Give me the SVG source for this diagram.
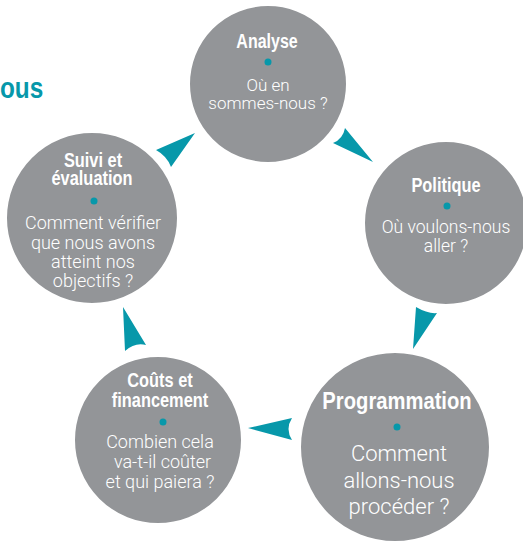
<svg xmlns="http://www.w3.org/2000/svg" width="523" height="543" viewBox="0 0 523 543">
  <style>
    .disc { fill: #939598; stroke: #ffffff; stroke-width: 2; }
    .dot { fill: #0798aa; }
    .head { fill: #0798aa; }
    .title { font-family: "Liberation Sans", Arial, sans-serif; font-weight: bold; fill: #ffffff; text-anchor: middle; font-size: 19.5px; }
    .body { font-family: Roboto, "Liberation Sans", Arial, sans-serif; font-weight: 300; fill: #ffffff; text-anchor: middle; font-size: 17.5px; }
    .heading { font-family: "Liberation Sans", Arial, sans-serif; font-weight: bold; fill: #0798aa; font-size: 29px; }
  </style>

  <!-- partially visible page heading (narrowed bold face) -->
  <text class="heading" transform="translate(0 98) scale(0.84 1)">ous</text>

  <!-- cycle arrowheads -->
  <g id="connectors">
    <path class="head" d="M373 162 L345 128 Q343 139 333 143 Z"/>
    <path class="head" d="M413 349 L416 307 Q428 314 437 313 Z"/>
    <path class="head" d="M248 428 L292 418 Q285 429 292 440 Z"/>
    <path class="head" d="M123 307 L146 345 Q135 342 125 351 Z"/>
    <path class="head" d="M195 133 L156 150 Q167 156 171 167 Z"/>
  </g>

  <g id="analyse">
    <circle class="disc" cx="268" cy="84" r="79"/>
    <text class="title" transform="translate(267 48) scale(0.82 1)">Analyse</text>
    <circle class="dot" cx="268" cy="62" r="3.5"/>
    <text class="body" x="268" y="91" style="font-size:17px">Où en</text>
    <text class="body" x="268" y="109" style="font-size:17px">sommes-nous ?</text>
  </g>

  <g id="politique">
    <circle class="disc" cx="446" cy="223" r="82"/>
    <text class="title" transform="translate(446 192) scale(0.84 1)">Politique</text>
    <circle class="dot" cx="447" cy="206" r="3.5"/>
    <text class="body" x="446" y="233">Où voulons-nous</text>
    <text class="body" x="446" y="252">aller ?</text>
  </g>

  <g id="programmation">
    <circle class="disc" cx="395" cy="447" r="95"/>
    <text class="title" transform="translate(397 409) scale(0.86 1)" style="font-size:23.5px">Programmation</text>
    <circle class="dot" cx="397" cy="427" r="3.5"/>
    <text class="body" x="399" y="461" style="font-size:22px">Comment</text>
    <text class="body" x="399" y="488" style="font-size:22px">allons-nous</text>
    <text class="body" x="399" y="514" style="font-size:22px">procéder ?</text>
  </g>

  <g id="couts">
    <circle class="disc" cx="158" cy="440" r="84"/>
    <text class="title" transform="translate(160 387) scale(0.84 1)">Coûts et</text>
    <text class="title" transform="translate(160 407) scale(0.84 1)">financement</text>
    <circle class="dot" cx="163" cy="422" r="3.5"/>
    <text class="body" x="160" y="448" style="font-size:18px">Combien cela</text>
    <text class="body" x="162.5" y="468" style="font-size:18px">va-t-il coûter</text>
    <text class="body" x="160" y="488" style="font-size:18px">et qui paiera ?</text>
  </g>

  <g id="suivi">
    <circle class="disc" cx="92" cy="218" r="86"/>
    <text class="title" transform="translate(93 167) scale(0.84 1)">Suivi et</text>
    <text class="title" transform="translate(92 185) scale(0.84 1)">évaluation</text>
    <circle class="dot" cx="94" cy="201" r="3.5"/>
    <text class="body" x="93" y="229" style="font-size:18px">Comment vérifier</text>
    <text class="body" x="93" y="249" style="font-size:18px">que nous avons</text>
    <text class="body" x="93" y="268" style="font-size:18px">atteint nos</text>
    <text class="body" x="93" y="287" style="font-size:18px">objectifs ?</text>
  </g>
</svg>
